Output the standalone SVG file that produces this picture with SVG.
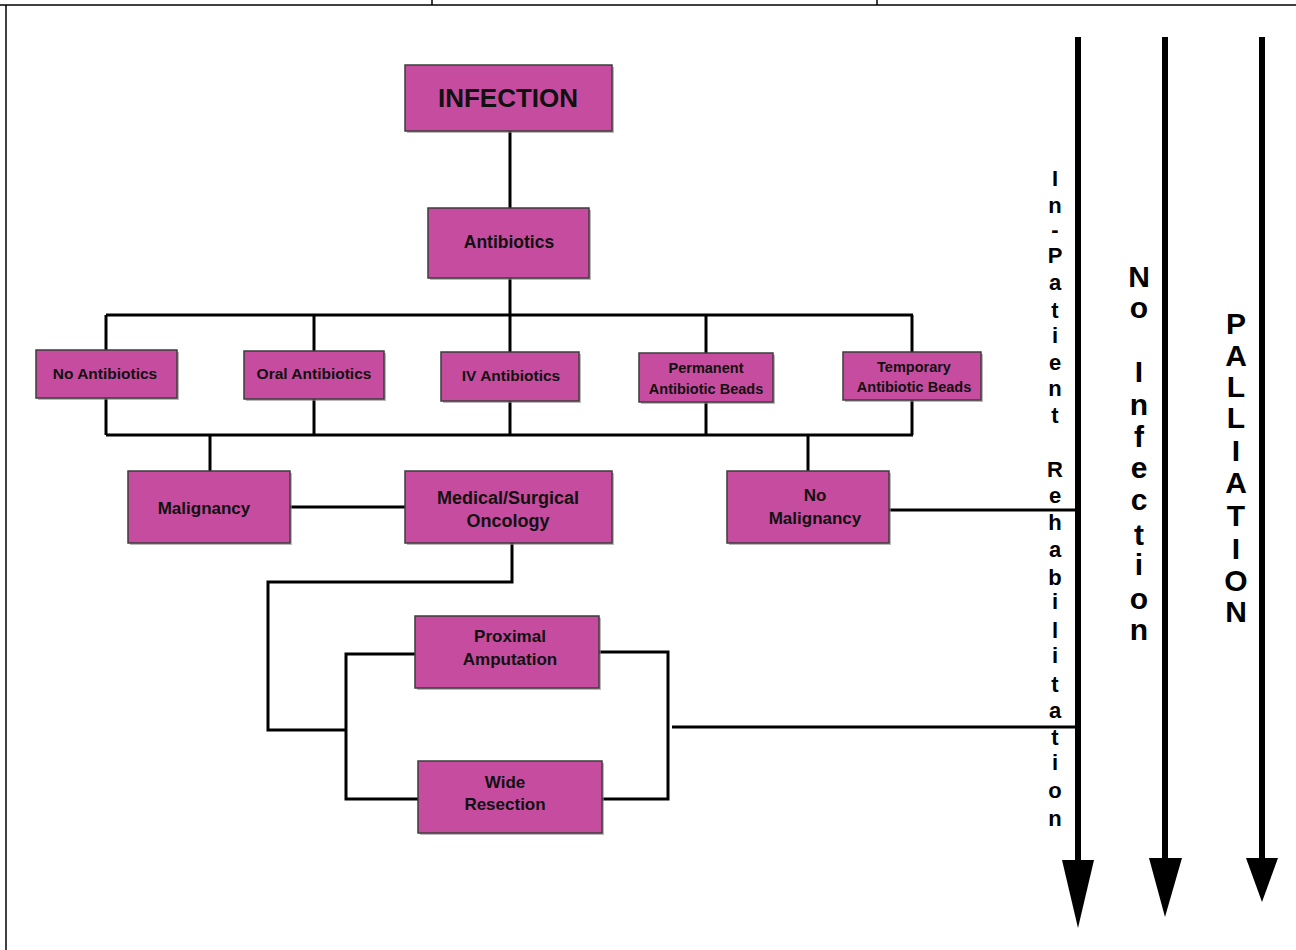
<svg xmlns="http://www.w3.org/2000/svg" width="1296" height="950" viewBox="0 0 1296 950">
  <style>
    .box { fill: #C64C9F; stroke: #3c3c3c; stroke-width: 1.5; }
    .shadow { fill: #8a8a8a; opacity: 0.6; }
    .lbl { font-family: "Comic Sans MS", "Liberation Sans", sans-serif; font-weight: bold; fill: #111; text-anchor: middle; }
    .wire { fill: none; stroke: #000; stroke-width: 3; stroke-linejoin: miter; }
    .flow { stroke: #000; stroke-width: 6; }
    .vt { font-family: "Comic Sans MS", "Liberation Sans", sans-serif; font-weight: bold; fill: #000; text-anchor: middle; }
  </style>

  <!-- page frame -->
  <g id="frame" stroke="#000" stroke-width="1.5" fill="none">
    <line x1="0" y1="5" x2="1296" y2="5"/>
    <line x1="6" y1="5" x2="6" y2="950"/>
    <line x1="432" y1="0" x2="432" y2="5"/>
    <line x1="877" y1="0" x2="877" y2="5"/>
  </g>

  <!-- connectors -->
  <g id="connectors">
    <line class="wire" x1="510" y1="131" x2="510" y2="208"/>
    <line class="wire" x1="510" y1="278" x2="510" y2="315"/>
    <line class="wire" x1="106" y1="315" x2="913" y2="315"/>
    <line class="wire" x1="106" y1="315" x2="106" y2="350"/>
    <line class="wire" x1="314" y1="315" x2="314" y2="351"/>
    <line class="wire" x1="510" y1="315" x2="510" y2="352"/>
    <line class="wire" x1="706" y1="315" x2="706" y2="353"/>
    <line class="wire" x1="912" y1="315" x2="912" y2="352"/>
    <line class="wire" x1="106" y1="435" x2="913" y2="435"/>
    <line class="wire" x1="106" y1="398" x2="106" y2="435"/>
    <line class="wire" x1="314" y1="399" x2="314" y2="435"/>
    <line class="wire" x1="510" y1="401" x2="510" y2="435"/>
    <line class="wire" x1="706" y1="402" x2="706" y2="435"/>
    <line class="wire" x1="912" y1="400" x2="912" y2="435"/>
    <line class="wire" x1="210" y1="435" x2="210" y2="471"/>
    <line class="wire" x1="808" y1="435" x2="808" y2="471"/>
    <line class="wire" x1="290" y1="507" x2="405" y2="507"/>
    <line class="wire" x1="889" y1="510" x2="1077" y2="510"/>
    <polyline class="wire" points="512,543 512,582 268,582 268,730 346,730"/>
    <polyline class="wire" points="415,654 346,654 346,799 418,799"/>
    <polyline class="wire" points="599,652 668,652 668,799 602,799"/>
    <line class="wire" x1="672" y1="727" x2="1077" y2="727"/>
  </g>

  <!-- pathway arrows -->
  <g id="arrows">
    <line class="flow" x1="1078" y1="37" x2="1078" y2="862"/>
    <polygon points="1062,860 1094,860 1078,928"/>
    <line class="flow" x1="1165" y1="37" x2="1165" y2="860"/>
    <polygon points="1149,858 1182,858 1165,917"/>
    <line class="flow" x1="1262" y1="37" x2="1262" y2="860"/>
    <polygon points="1246,858 1278,858 1262,902"/>
  </g>

  <!-- nodes -->
  <g id="infection">
    <rect class="shadow" x="407" y="67" width="207" height="66"/>
    <rect class="box" x="405" y="65" width="207" height="66"/>
    <text class="lbl" x="508" y="107" font-size="26">INFECTION</text>
  </g>
  <g id="antibiotics">
    <rect class="shadow" x="430" y="210" width="161" height="70"/>
    <rect class="box" x="428" y="208" width="161" height="70"/>
    <text class="lbl" x="509" y="248" font-size="17.5">Antibiotics</text>
  </g>
  <g id="no-antibiotics">
    <rect class="shadow" x="38" y="352" width="141" height="48"/>
    <rect class="box" x="36" y="350" width="141" height="48"/>
    <text class="lbl" x="105" y="379" font-size="15.5">No Antibiotics</text>
  </g>
  <g id="oral-antibiotics">
    <rect class="shadow" x="246" y="353" width="140" height="48"/>
    <rect class="box" x="244" y="351" width="140" height="48"/>
    <text class="lbl" x="314" y="379" font-size="15.5">Oral Antibiotics</text>
  </g>
  <g id="iv-antibiotics">
    <rect class="shadow" x="443" y="354" width="138" height="49"/>
    <rect class="box" x="441" y="352" width="138" height="49"/>
    <text class="lbl" x="511" y="381" font-size="15.5">IV Antibiotics</text>
  </g>
  <g id="permanent-beads">
    <rect class="shadow" x="641" y="355" width="134" height="49"/>
    <rect class="box" x="639" y="353" width="134" height="49"/>
    <text class="lbl" x="706" y="373" font-size="14.5">Permanent</text>
    <text class="lbl" x="706" y="394" font-size="14.5">Antibiotic Beads</text>
  </g>
  <g id="temporary-beads">
    <rect class="shadow" x="845" y="354" width="138" height="48"/>
    <rect class="box" x="843" y="352" width="138" height="48"/>
    <text class="lbl" x="914" y="372" font-size="14.5">Temporary</text>
    <text class="lbl" x="914" y="392" font-size="14.5">Antibiotic Beads</text>
  </g>
  <g id="malignancy">
    <rect class="shadow" x="130" y="473" width="162" height="72"/>
    <rect class="box" x="128" y="471" width="162" height="72"/>
    <text class="lbl" x="204" y="514" font-size="17">Malignancy</text>
  </g>
  <g id="oncology">
    <rect class="shadow" x="407" y="473" width="207" height="72"/>
    <rect class="box" x="405" y="471" width="207" height="72"/>
    <text class="lbl" x="508" y="504" font-size="18">Medical/Surgical</text>
    <text class="lbl" x="508" y="527" font-size="18">Oncology</text>
  </g>
  <g id="no-malignancy">
    <rect class="shadow" x="729" y="473" width="162" height="72"/>
    <rect class="box" x="727" y="471" width="162" height="72"/>
    <text class="lbl" x="815" y="501" font-size="17">No</text>
    <text class="lbl" x="815" y="524" font-size="17">Malignancy</text>
  </g>
  <g id="proximal-amputation">
    <rect class="shadow" x="417" y="618" width="184" height="72"/>
    <rect class="box" x="415" y="616" width="184" height="72"/>
    <text class="lbl" x="510" y="642" font-size="17">Proximal</text>
    <text class="lbl" x="510" y="665" font-size="17">Amputation</text>
  </g>
  <g id="wide-resection">
    <rect class="shadow" x="420" y="763" width="184" height="72"/>
    <rect class="box" x="418" y="761" width="184" height="72"/>
    <text class="lbl" x="505" y="788" font-size="17">Wide</text>
    <text class="lbl" x="505" y="810" font-size="17">Resection</text>
  </g>

  <!-- pathway labels, stacked vertically -->
  <g id="label-inpatient">
    <text class="vt" font-size="22">
      <tspan x="1055" y="186">I</tspan><tspan x="1055" y="213">n</tspan><tspan x="1055" y="237">-</tspan><tspan x="1055" y="263">P</tspan><tspan x="1055" y="290">a</tspan><tspan x="1055" y="318">t</tspan><tspan x="1055" y="343">i</tspan><tspan x="1055" y="370">e</tspan><tspan x="1055" y="396">n</tspan><tspan x="1055" y="423">t</tspan><tspan x="1055" y="477">R</tspan><tspan x="1055" y="503">e</tspan><tspan x="1055" y="530">h</tspan><tspan x="1055" y="557">a</tspan><tspan x="1055" y="585">b</tspan><tspan x="1055" y="609">i</tspan><tspan x="1055" y="638">l</tspan><tspan x="1055" y="663">i</tspan><tspan x="1055" y="692">t</tspan><tspan x="1055" y="718">a</tspan><tspan x="1055" y="745">t</tspan><tspan x="1055" y="770">i</tspan><tspan x="1055" y="798">o</tspan><tspan x="1055" y="826">n</tspan>
    </text>
  </g>
  <g id="label-no-infection">
    <text class="vt" font-size="30">
      <tspan x="1139" y="287">N</tspan><tspan x="1139" y="318">o</tspan><tspan x="1139" y="382">I</tspan><tspan x="1139" y="415">n</tspan><tspan x="1139" y="447">f</tspan><tspan x="1139" y="478">e</tspan><tspan x="1139" y="510">c</tspan><tspan x="1139" y="545">t</tspan><tspan x="1139" y="575">i</tspan><tspan x="1139" y="609">o</tspan><tspan x="1139" y="640">n</tspan>
    </text>
  </g>
  <g id="label-palliation">
    <text class="vt" font-size="30">
      <tspan x="1236" y="334">P</tspan><tspan x="1236" y="366">A</tspan><tspan x="1236" y="397">L</tspan><tspan x="1236" y="428">L</tspan><tspan x="1236" y="461">I</tspan><tspan x="1236" y="493">A</tspan><tspan x="1236" y="526">T</tspan><tspan x="1236" y="559">I</tspan><tspan x="1236" y="591">O</tspan><tspan x="1236" y="622">N</tspan>
    </text>
  </g>
</svg>
